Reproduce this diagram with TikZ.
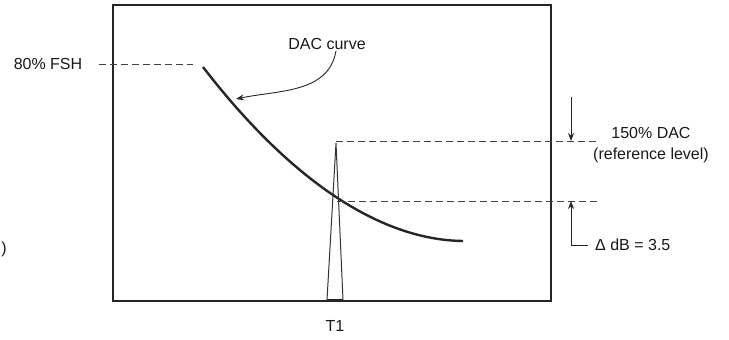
\documentclass[tikz,border=0pt]{standalone}
\usepackage{fontspec}
\setmainfont{Liberation Sans}
\usepackage{tikz}
\usetikzlibrary{arrows.meta,positioning,calc}

\begin{document}
\begin{tikzpicture}[
  x=1pt, y=1pt,
  font=\fontsize{16}{21}\selectfont,
  >={Stealth[length=8pt,width=6pt]},
  lbl/.style={inner sep=1pt, text=black!90},
  frame/.style={draw=black!85, line width=2pt},
  dac/.style={draw=black!85, line width=2.4pt},
  level/.style={draw=black!75, dash pattern=on 7pt off 4pt, line width=0.9pt},
  peak/.style={draw=black!80, line width=1pt},
  arr/.style={->, draw=black!85, line width=0.9pt}
]
\useasboundingbox (0,0) rectangle (729,340);

% ---------- screen frame ----------
\draw[frame] (113,39) rectangle (551,335);

% ---------- DAC curve ----------
\coordinate (c0) at (203,273);
\coordinate (c1) at (463,99);
\draw[dac] (c0) .. controls (290,160) and (380,100) .. (c1);

\node[lbl] (fsh) at (48,276) {80\% FSH};
\coordinate (fshend) at (193,276);
\draw[level] (fsh.east) ++(16pt,0) -- (fshend);

\node[lbl] (daclbl) at (327,296) {DAC curve};
\coordinate (dactip) at (236,241);
\draw[arr] ([xshift=9pt]daclbl.south) to[out=-100,in=12] (dactip);

% ---------- indication T1 ----------
\coordinate (apex) at (336,197);
\coordinate (bl) at (327,40);
\coordinate (br) at (343,40);
\draw[peak] (bl) -- (apex) -- (br);
\draw[line width=2pt, black!85] (bl) -- (br);
\node[lbl] (t1) at (335,14) {T1};

% ---------- reference levels ----------
\coordinate (ref) at (597,199);
\coordinate (hit) at (597,139);
\draw[level] (apex |- ref) -- (ref);
\draw[level] (337,139) -- (hit);

\node[lbl, align=center] (reflbl) at (651,195) {150\% DAC\\(reference level)};

\coordinate (dtop) at (571,243);
\draw[arr] (dtop) -- (dtop |- ref);
\coordinate (dbot) at (571,95);
\node[lbl, anchor=west] (ddb) at (594,95) {Δ dB = 3.5};
\draw[arr] (ddb.west) ++(-6pt,0) -- (dbot) -- (dbot |- hit);

\node[lbl] (stray) at (4,91) {)};

\end{tikzpicture}
\end{document}
